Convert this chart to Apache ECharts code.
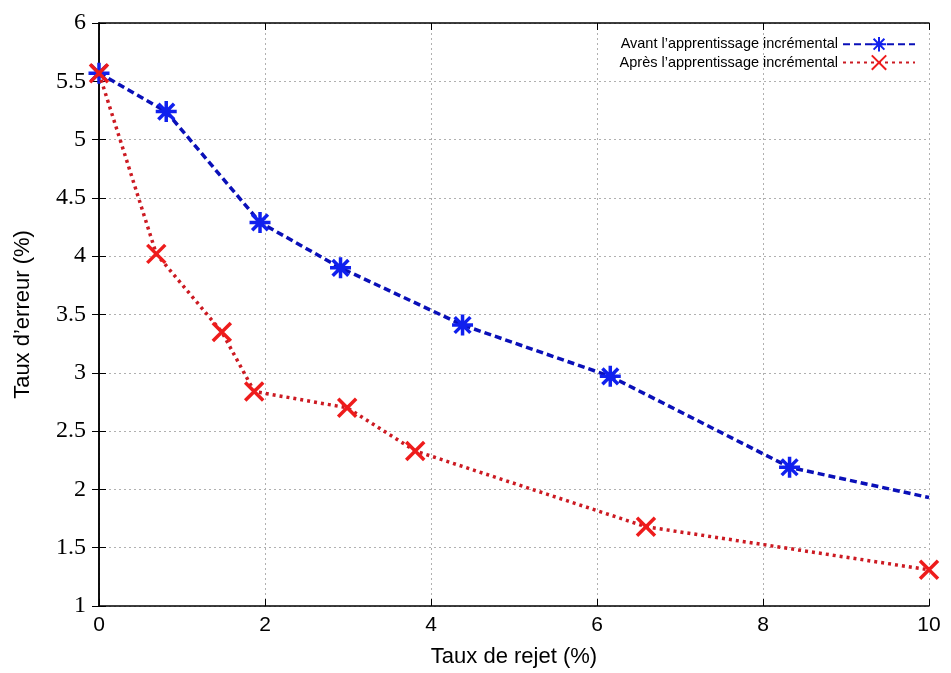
<!DOCTYPE html>
<html>
<head>
<meta charset="utf-8">
<script src="https://cdn.jsdelivr.net/npm/echarts@6/dist/echarts.min.js"></script>
<style>
  html, body { margin: 0; padding: 0; background: #fff; }
  #chart { width: 951px; height: 673px; }
</style>
</head>
<body>
<div id="chart"></div>
<script>
// rejection rate (%) vs error rate (%)
const avantX = [0, 0.81, 1.94, 2.91, 4.38, 6.16, 8.32, 10];
const avantY = [5.57, 5.24, 4.29, 3.90, 3.41, 2.97, 2.19, 1.93];
const apresX = [0, 0.69, 1.48, 1.87, 2.99, 3.81, 6.59, 10];
const apresY = [5.57, 4.02, 3.35, 2.84, 2.70, 2.33, 1.68, 1.31];
const names = ["Avant l\u2019apprentissage incrémental", "Après l\u2019apprentissage incrémental"];

const star = 'path://M0,-10L0,10M-10,0L10,0M-7.5,-7.5L7.5,7.5M-7.5,7.5L7.5,-7.5';
const cross = 'path://M-10,-10L10,10M-10,10L10,-10';

const blueData = avantX.map((x, i) => {
  const d = { value: [x, avantY[i]] };
  if (i === avantX.length - 1) d.symbol = 'none';
  return d;
});
const redData = apresX.map((x, i) => [x, apresY[i]]);

const chart = echarts.init(document.getElementById('chart'));
chart.setOption({
  animation: false,
  backgroundColor: '#fff',
  grid: { left: 99, right: 22, top: 23, bottom: 65, containLabel: false },
  legend: {
    right: 30, top: 31, orient: 'vertical', align: 'right',
    itemWidth: 72, itemHeight: 18, itemGap: 2,
    textStyle: { fontFamily: 'Liberation Sans', fontSize: 14.5, color: '#000' },
    data: names
  },
  xAxis: [{
    type: 'value', min: 0, max: 10, interval: 2,
    name: 'Taux de rejet (%)', nameLocation: 'middle', nameGap: 40,
    nameTextStyle: { fontFamily: 'Liberation Sans', fontSize: 22, color: '#000' },
    axisLine: { onZero: false, lineStyle: { color: '#000', width: 1.5 } },
    axisTick: { inside: true, length: 7, lineStyle: { color: '#000' } },
    axisLabel: { fontFamily: 'Liberation Sans', fontSize: 21, color: '#000', margin: 9 },
    splitLine: { show: true, lineStyle: { color: '#b0b0b0', type: [2, 3], width: 1 } }
  }, {
    type: 'value', position: 'top', min: 0, max: 10, interval: 2,
    axisLine: { show: true, lineStyle: { color: '#000', width: 1.5 } },
    axisTick: { show: true, inside: true, length: 7, lineStyle: { color: '#000' } },
    axisLabel: { show: false }, splitLine: { show: false }
  }],
  yAxis: [{
    type: 'value', min: 1, max: 6, interval: 0.5,
    name: 'Taux d\u2019erreur (%)', nameLocation: 'middle', nameGap: 65,
    nameTextStyle: { fontFamily: 'Liberation Sans', fontSize: 22, color: '#000' },
    axisLine: { show: true, onZero: false, lineStyle: { color: '#000', width: 1.5 } },
    axisTick: { show: true, inside: true, length: 7, lineStyle: { color: '#000' } },
    axisLabel: { fontFamily: 'Liberation Serif', fontSize: 24, color: '#000', margin: 13 },
    splitLine: { show: true, lineStyle: { color: '#b0b0b0', type: [2, 3], width: 1 } }
  }, {
    type: 'value', position: 'right', min: 1, max: 6, interval: 0.5,
    axisLine: { show: true, lineStyle: { color: '#000', width: 1.5 } },
    axisTick: { show: true, inside: true, length: 7, lineStyle: { color: '#000' } },
    axisLabel: { show: false }, splitLine: { show: false }
  }],
  series: [{
    name: names[0], type: 'line', data: blueData,
    symbol: star, symbolSize: 21,
    lineStyle: { color: '#0a10b8', width: 3.5, type: [7, 4] },
    itemStyle: { color: 'rgba(0,0,0,0)', borderColor: '#1020ee', borderWidth: 3.5 },
    z: 3
  }, {
    name: names[1], type: 'line', data: redData,
    symbol: cross, symbolSize: 18,
    lineStyle: { color: '#cc1a22', width: 3.5, type: [3, 4] },
    itemStyle: { color: 'rgba(0,0,0,0)', borderColor: '#ee1c1c', borderWidth: 3.5 },
    z: 4
  }]
});
</script>
</body>
</html>
